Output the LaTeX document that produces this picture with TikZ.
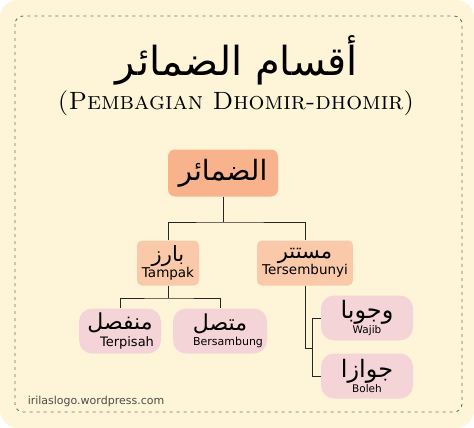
\documentclass[tikz,border=0pt]{standalone}
\usepackage{fontspec}
\usepackage{xcolor}
\usepackage{tikz}
\usetikzlibrary{positioning}
\TeXXeTstate=1
\newfontfamily\arabicfont[Script=Arabic]{DejaVu Sans}
\newfontfamily\labelfont{DejaVu Sans}

\definecolor{cardbg}{HTML}{FEF5D8}
\definecolor{dashgray}{HTML}{6E6E6E}
\definecolor{rootfill}{HTML}{F8B28C}
\definecolor{midfill}{HTML}{F9C9A9}
\definecolor{leaffill}{HTML}{F5D4D7}

\tikzset{
  rootbox/.style={fill=rootfill, rounded corners=7pt, minimum width=110pt, minimum height=47pt, inner sep=1pt, align=center},
  midbox/.style={fill=midfill, rounded corners=5pt, minimum height=45pt, inner sep=2pt, align=center},
  leafbox/.style={fill=leaffill, rounded corners=13pt, minimum height=45pt, inner sep=2pt, align=center},
  link/.style={draw=black!85, line width=0.9pt},
}

\begin{document}
\begin{tikzpicture}[x=1pt, y=-1pt]
		\useasboundingbox (0,0) rectangle (474,428);
		\fill[white] (0,0) rectangle (474,428);
		\fill[cardbg, rounded corners=18pt] (0,0) rectangle (474,428);
		\draw[dashgray, line width=0.9pt, dash pattern=on 3pt off 4pt, rounded corners=8pt] (15,16) rectangle (462,412);

		\node (title) at (237,60) {\arabicfont\fontsize{40}{46}\selectfont\beginR أقسام الضمائر\endR};
		\node (subtitle) at (236,103) {\fontsize{25}{28}\selectfont\textsc{(Pembagian Dhomir-dhomir)}};

		\node[rootbox] (root) at (223,173) {\arabicfont\fontsize{28}{32}\selectfont\beginR الضمائر\endR};

		\node[midbox, minimum width=62pt] (barz) at (168,263) {\arabicfont\fontsize{21}{21}\selectfont\beginR بارز\endR\\[0pt]\labelfont\fontsize{13.5}{14}\selectfont Tampak};
		\node[midbox, minimum width=96pt] (mustatir) at (305,263) {\arabicfont\fontsize{21}{21}\selectfont\beginR مستتر\endR\\[0pt]\labelfont\fontsize{13.5}{14}\selectfont Tersembunyi};

		\node[leafbox, minimum width=82pt] (munfasil) at (120,331) {\arabicfont\fontsize{22}{22}\selectfont\beginR منفصل\endR\\[2pt]\hspace*{14pt}\labelfont\fontsize{13}{14}\selectfont Terpisah};
		\node[leafbox, minimum width=94pt] (muttasil) at (220,331) {\arabicfont\fontsize{22}{22}\selectfont\beginR متصل\endR\\[3pt]\hspace*{16pt}\labelfont\fontsize{11}{12}\selectfont Bersambung};

		\node[leafbox, minimum width=92pt] (wajib) at (367,318) {\arabicfont\fontsize{24}{24}\selectfont\beginR وجوبا\endR\\[1pt]\labelfont\fontsize{10.5}{11}\selectfont Wajib};
		\node[leafbox, minimum width=92pt] (jawaz) at (367,376) {\arabicfont\fontsize{24}{24}\selectfont\beginR جوازا\endR\\[1pt]\labelfont\fontsize{10.5}{11}\selectfont Boleh};

		\coordinate (rootjoin) at (223,222);
		\coordinate (barzjoin) at (168,298);
		\coordinate (mustatirjoin) at (312,348);

		\draw[link] (root) -- (rootjoin);
		\draw[link] (barz.north) |- (rootjoin) -| (mustatir.north);

		\draw[link] (barz) -- (barzjoin);
		\draw[link] (munfasil.north) |- (barzjoin) -| (muttasil.north);

		\draw[link] (mustatir.south) |- (mustatirjoin);
		\draw[link] (wajib.west) -| (mustatirjoin);
		\draw[link] (jawaz.west) -| (mustatirjoin);

		\node[text=black!70] (credit) at (96,401) {\labelfont\fontsize{11}{13}\selectfont irilaslogo.wordpress.com};
	\end{tikzpicture}
\end{document}
